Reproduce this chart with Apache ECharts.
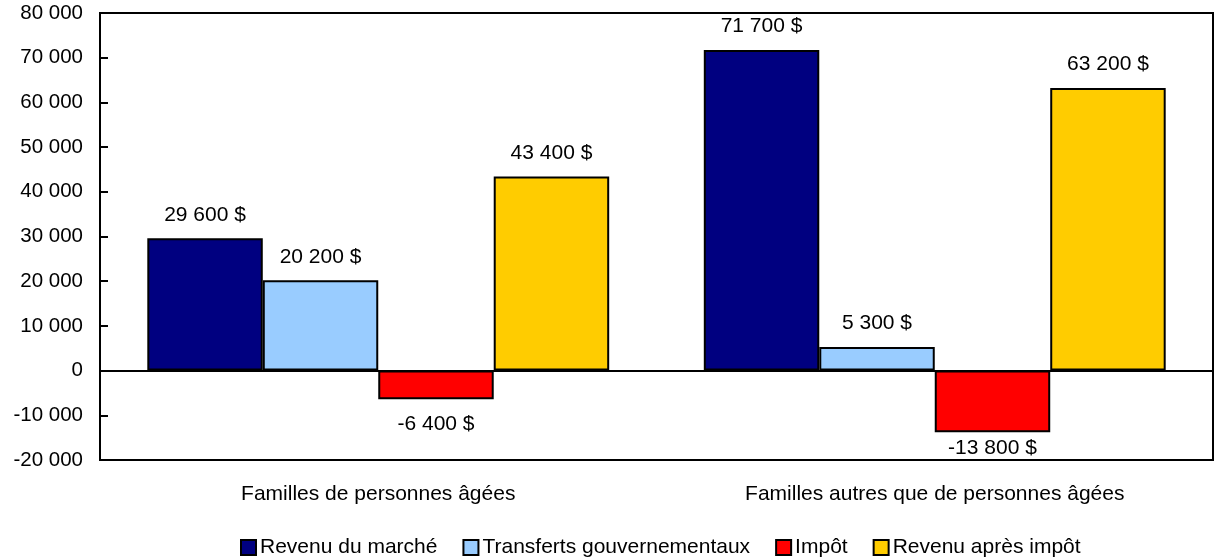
<!DOCTYPE html>
<html><head><meta charset="utf-8">
<script src="https://cdn.jsdelivr.net/npm/echarts@6/dist/echarts.min.js"></script>
<style>html,body{margin:0;padding:0;background:#fff}#c{width:1217px;height:560px}</style>
</head><body><div id="c"></div>
<script>
const categories = ['Familles de personnes âgées', 'Familles autres que de personnes âgées'];
const seriesNames = ['Revenu du marché', 'Transferts gouvernementaux', 'Impôt', 'Revenu après impôt'];
const revenuMarche = [29600, 71700];
const transferts = [20200, 5300];
const impot = [-6400, -13800];
const revenuApres = [43400, 63200];
const colors = ['#000080', '#99CCFF', '#FF0000', '#FFCC00'];

const fmt = v => {
  const s = Math.abs(v).toString().replace(/\B(?=(\d{3})+(?!\d))/g, ' ');
  return (v < 0 ? '-' : '') + s;
};
const font = 'Liberation Sans, Arial, sans-serif';
const FS = 21;
const dataSets = [revenuMarche, transferts, impot, revenuApres];
// label distances for negative bars (the deep one is pulled up inside the plot)
const negLabelDistance = [14, 5];

const series = dataSets.map((d, i) => ({
  name: seriesNames[i],
  type: 'bar',
  barGap: '0%',
  barCategoryGap: '17%',
  itemStyle: { color: colors[i], borderColor: '#000', borderWidth: 2 },
  label: {
    show: true,
    position: 'top',
    distance: 13,
    color: '#000', fontSize: FS, fontFamily: font,
    formatter: p => fmt(p.value) + ' $'
  },
  data: d.map((v, j) => v < 0
    ? { value: v, label: { position: 'bottom', distance: negLabelDistance[j] } }
    : v)
}));
series[0].markLine = {
  silent: true, symbol: ['none', 'none'], label: { show: false },
  lineStyle: { color: '#000', width: 2, type: 'solid' },
  data: [{ yAxis: 0 }], z: 10
};

const chart = echarts.init(document.getElementById('c'));
chart.setOption({
  animation: false,
  color: colors,
  grid: { left: 100, right: 4, top: 13, bottom: 100, show: true, borderColor: '#000', borderWidth: 2, backgroundColor: 'transparent' },
  legend: {
    top: 532, left: 235, itemWidth: 15, itemHeight: 15, itemGap: 25,
    icon: 'rect',
    itemStyle: { borderColor: '#000', borderWidth: 2 },
    textStyle: { fontSize: FS, fontFamily: font, color: '#000', padding: [0, 0, 0, -1] },
    data: seriesNames
  },
  xAxis: {
    type: 'category', data: categories,
    axisLine: { onZero: false, lineStyle: { color: '#000', width: 2 } },
    axisTick: { show: false },
    axisLabel: { margin: 24, fontSize: FS, fontFamily: font, color: '#000' }
  },
  yAxis: {
    type: 'value', min: -20000, max: 80000, interval: 10000,
    axisLine: { show: true, lineStyle: { color: '#000', width: 2 } },
    axisTick: { show: true, inside: true, length: 8, lineStyle: { color: '#000', width: 2 } },
    splitLine: { show: false },
    axisLabel: { margin: 17, fontSize: 20.5, fontFamily: font, color: '#000', formatter: fmt }
  },
  series
});
</script></body></html>
